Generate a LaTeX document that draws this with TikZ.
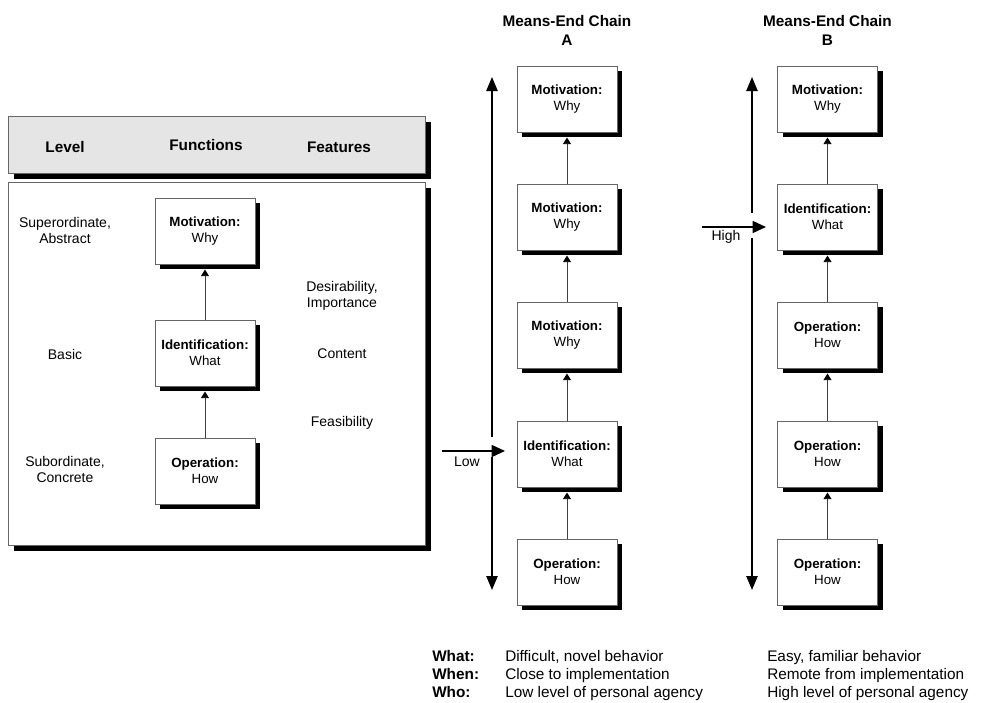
\documentclass[tikz,border=0pt]{standalone}
\usepackage{fontspec}
\setmainfont{Liberation Sans}
\usetikzlibrary{arrows.meta,shadows}

\tikzset{
  shadowL/.style={drop shadow={shadow xshift=4.8pt,shadow yshift=-4.8pt,fill=black,opacity=1}},
  shadowS/.style={drop shadow={shadow xshift=3.8pt,shadow yshift=-3.8pt,fill=black,opacity=1}},
  panel/.style={draw=black!60,line width=0.7pt,shadowL},
  fbox/.style={draw=black!60,line width=0.7pt,fill=white,shadowS,
    minimum width=75pt,minimum height=49.5pt,inner sep=0pt,align=center,
    font=\fontsize{10}{12.2}\selectfont},
  lbl/.style={align=center,font=\fontsize{10.5}{12}\selectfont},
  hdr/.style={font=\bfseries\fontsize{11.5}{13}\selectfont},
  ttl/.style={align=center,font=\bfseries\fontsize{11.5}{14.25}\selectfont},
  link/.style={draw=black!75,line width=0.7pt,-{Triangle[length=5pt,width=6pt,color=black]}},
  bigarrow/.style={line width=1.1pt,{Triangle[length=10.5pt,width=8.5pt]}-{Triangle[length=10.5pt,width=8.5pt]}},
  inarrow/.style={line width=1.1pt,-{Triangle[length=10pt,width=9pt]}},
  note/.style={anchor=base west,inner sep=0pt,font=\fontsize{11.5}{13}\selectfont},
  notehd/.style={note,font=\bfseries\fontsize{11.5}{13}\selectfont},
}

\begin{document}
\begin{tikzpicture}[x=0.75pt,y=-0.75pt]
\useasboundingbox (0,0) rectangle (983,703);

% ---------- left panel: levels, functions, features ----------
\draw[panel,fill=black!10] (8,116) rectangle (425,173);
\draw[panel,fill=white] (8,182) rectangle (425,545);

\node[hdr] (hLevel) at (65,147) {Level};
\node[hdr] (hFunc) at (206,145) {Functions};
\node[hdr] (hFeat) at (339,147) {Features};

\node[lbl] (lvSup) at (65,230) {Superordinate,\\Abstract};
\node[lbl] (lvBasic) at (65,354) {Basic};
\node[lbl] (lvSub) at (65,469) {Subordinate,\\Concrete};

\node[lbl] (ftDes) at (342,296) {Desirability,\\Importance};
\node[lbl] (ftCon) at (342,354) {Content};
\node[lbl] (ftFea) at (342,423) {Feasibility};

\node[fbox] (fMot) at (205,231) {\textbf{Motivation:}\\Why};
\node[fbox] (fIde) at (205,353) {\textbf{Identification:}\\What};
\node[fbox] (fOpe) at (205,471) {\textbf{Operation:}\\How};

\draw[link] (fIde.north) -- ([yshift=-3.8pt]fMot.south);
\draw[link] (fOpe.north) -- ([yshift=-3.8pt]fIde.south);

% ---------- means-end chain A ----------
\node[ttl] (tA) at (567,30.5) {Means-End Chain\\A};

\node[fbox] (a1) at (567,99) {\textbf{Motivation:}\\Why};
\node[fbox] (a2) at (567,217) {\textbf{Motivation:}\\Why};
\node[fbox] (a3) at (567,335) {\textbf{Motivation:}\\Why};
\node[fbox] (a4) at (567,454) {\textbf{Identification:}\\What};
\node[fbox] (a5) at (567,572) {\textbf{Operation:}\\How};

\foreach \lo/\hi in {a2/a1,a3/a2,a4/a3,a5/a4}
  \draw[link] (\lo.north) -- ([yshift=-3.8pt]\hi.south);

\coordinate (aTop) at (492,77);
\coordinate (aBot) at (492,590);
\draw[bigarrow] (aTop) -- (aBot);
\fill[white] (486,437) rectangle (498,457);
\coordinate (lowFrom) at (442,451);
\coordinate (lowTo) at (505,451);
\draw[inarrow] (lowFrom) -- (lowTo);
\node[lbl] (lowLbl) at (467,462) {Low};

% ---------- means-end chain B ----------
\node[ttl] (tB) at (827.5,30.5) {Means-End Chain\\B};

\node[fbox] (b1) at (827.5,99) {\textbf{Motivation:}\\Why};
\node[fbox] (b2) at (827.5,217) {\textbf{Identification:}\\What};
\node[fbox] (b3) at (827.5,335) {\textbf{Operation:}\\How};
\node[fbox] (b4) at (827.5,454) {\textbf{Operation:}\\How};
\node[fbox] (b5) at (827.5,572) {\textbf{Operation:}\\How};

\foreach \lo/\hi in {b2/b1,b3/b2,b4/b3,b5/b4}
  \draw[link] (\lo.north) -- ([yshift=-3.8pt]\hi.south);

\coordinate (bTop) at (752,77);
\coordinate (bBot) at (752,590);
\draw[bigarrow] (bTop) -- (bBot);
\fill[white] (746,213) rectangle (758,238);
\coordinate (highFrom) at (702,227);
\coordinate (highTo) at (766,227);
\draw[inarrow] (highFrom) -- (highTo);
\node[lbl] (highLbl) at (726,237) {High};

% ---------- comparison table ----------
\node[notehd] (kWhat) at (432,661) {What:};
\node[notehd] (kWhen) at (432,679) {When:};
\node[notehd] (kWho)  at (432,697) {Who:};

\node[note] (aWhat) at (505,661) {Difficult, novel behavior};
\node[note] (aWhen) at (505,679) {Close to implementation};
\node[note] (aWho)  at (505,697) {Low level of personal agency};

\node[note] (bWhat) at (767,661) {Easy, familiar behavior};
\node[note] (bWhen) at (767,679) {Remote from implementation};
\node[note] (bWho)  at (767,697) {High level of personal agency};
\end{tikzpicture}
\end{document}
